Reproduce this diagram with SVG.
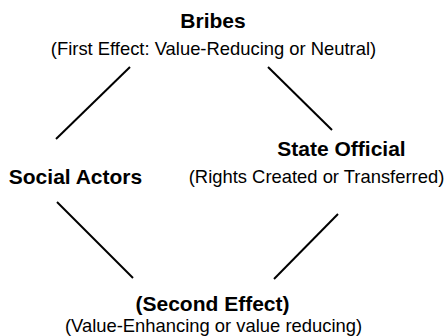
<svg xmlns="http://www.w3.org/2000/svg" width="448" height="336" viewBox="0 0 448 336">
  <style>
    .title { font-family: "Liberation Sans", Arial, sans-serif; font-weight: bold; font-size: 21px; fill: #000; text-anchor: middle; }
    .sub { font-family: "Liberation Sans", Arial, sans-serif; font-size: 18.4px; fill: #000; text-anchor: middle; }
    .link { stroke: #000; stroke-width: 2; fill: none; }
  </style>
  <rect width="448" height="336" fill="#fff"/>
  <g id="connectors">
    <line class="link" x1="130" y1="67" x2="56" y2="139"/>
    <line class="link" x1="268" y1="67" x2="332" y2="130"/>
    <line class="link" x1="57" y1="202" x2="133" y2="278"/>
    <line class="link" x1="338" y1="214" x2="274" y2="279"/>
  </g>
  <g id="bribes">
    <text class="title" x="213" y="28">Bribes</text>
    <text class="sub" x="213.5" y="55">(First Effect: Value-Reducing or Neutral)</text>
  </g>
  <g id="social-actors">
    <text class="title" x="75.5" y="184">Social Actors</text>
  </g>
  <g id="state-official">
    <text class="title" x="341.5" y="156">State Official</text>
    <text class="sub" x="316.5" y="183">(Rights Created or Transferred)</text>
  </g>
  <g id="second-effect">
    <text class="title" x="212.5" y="311">(Second Effect)</text>
    <text class="sub" x="213.5" y="332">(Value-Enhancing or value reducing)</text>
  </g>
</svg>
